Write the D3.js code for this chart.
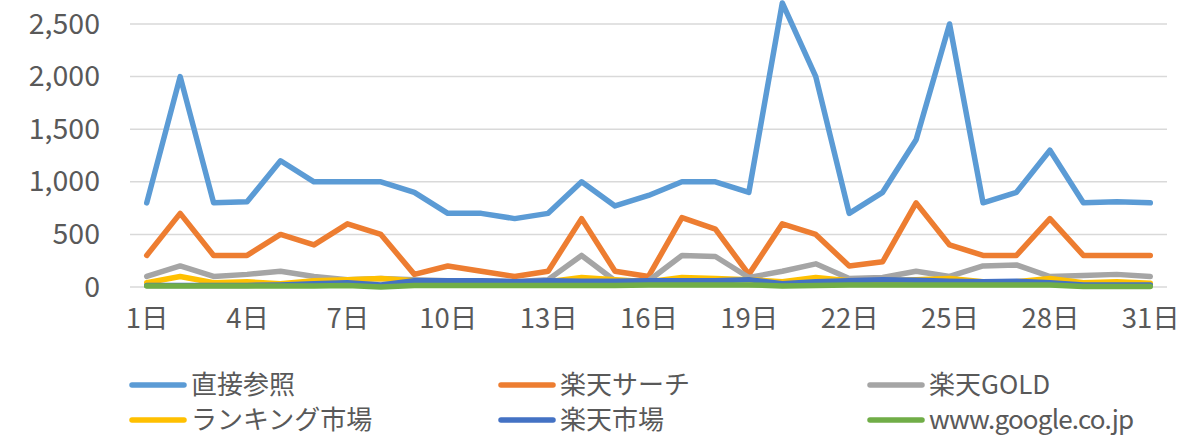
<!DOCTYPE html>
<html>
<head>
<meta charset="utf-8">
<script src="https://cdn.jsdelivr.net/npm/d3@7"></script>
<style>
  html, body { margin: 0; padding: 0; background: #fff; }
  svg { display: block; }
  text { font-family: "Noto Sans CJK JP", "Noto Sans", sans-serif; fill: #595959; }
</style>
</head>
<body>
<svg id="chart" width="1203" height="436"></svg>
<script>
const days = d3.range(1, 32).map(d => d + "日");
const seriesNames = ["直接参照", "楽天サーチ", "楽天GOLD", "ランキング市場", "楽天市場", "www.google.co.jp"];
const colors = ["#5B9BD5", "#ED7D31", "#A5A5A5", "#FFC000", "#4472C4", "#70AD47"];
const direct  = [800,2000,800,810,1200,1000,1000,1000,900,700,700,650,700,1000,770,870,1000,1000,900,2700,2000,700,900,1400,2500,800,900,1300,800,810,800];
const search  = [300,700,300,300,500,400,600,500,120,200,150,100,150,650,150,100,660,550,120,600,500,200,240,800,400,300,300,650,300,300,300];
const gold    = [100,200,100,120,150,100,70,80,70,60,60,50,70,300,60,60,300,290,90,150,220,80,90,150,100,200,210,100,110,120,100];
const ranking = [40,100,40,50,30,60,70,80,60,50,50,40,50,90,70,50,90,80,70,50,90,60,60,70,80,50,50,80,40,50,35];
const market  = [15,15,15,15,20,30,40,20,60,60,60,50,60,55,55,60,60,60,70,30,50,60,70,65,55,50,55,40,20,20,20];
const google  = [10,10,10,10,10,10,15,0,15,15,15,15,15,15,15,20,20,20,20,10,15,20,20,20,20,20,20,20,5,5,5];
const yTicks = [0, 500, 1000, 1500, 2000, 2500];
const xTickLabels = ["1日","4日","7日","10日","13日","16日","19日","22日","25日","28日","31日"];

const allSeries = [direct, search, gold, ranking, market, google];

const svg = d3.select("#chart");
const plot = { left: 130, right: 1167, top: 24, bottom: 287 };

const x = d3.scalePoint().domain(days).range([plot.left, plot.right]).padding(0.5);
const y = d3.scaleLinear().domain([0, 2500]).range([plot.bottom, plot.top]);

// gridlines
svg.append("g").selectAll("line").data(yTicks).join("line")
  .attr("x1", plot.left).attr("x2", plot.right)
  .attr("y1", d => y(d)).attr("y2", d => y(d))
  .attr("stroke", "#d9d9d9").attr("stroke-width", 1.5);

// y axis labels
const yAxis = d3.axisLeft(y).tickValues(yTicks).tickFormat(d3.format(",")).tickSize(0).tickPadding(0);
const yg = svg.append("g").attr("transform", `translate(${plot.left - 30},0)`).call(yAxis);
yg.select(".domain").remove();
yg.selectAll("text").attr("font-size", 28.5).attr("fill", "#595959")
  .style("font-family", '"Noto Sans CJK JP", sans-serif');

// x axis labels
const xAxis = d3.axisBottom(x).tickValues(xTickLabels).tickSize(0).tickPadding(0);
const xg = svg.append("g").attr("transform", `translate(0,${plot.bottom + 21})`).call(xAxis);
xg.select(".domain").remove();
xg.selectAll("text").attr("font-size", 27.5).attr("fill", "#595959")
  .style("font-family", '"Noto Sans CJK JP", sans-serif');

// lines
const line = d3.line().x((d, i) => x(days[i])).y(d => y(d));
svg.append("g").selectAll("path").data(allSeries).join("path")
  .attr("d", d => line(d))
  .attr("fill", "none")
  .attr("stroke", (d, i) => colors[i])
  .attr("stroke-width", 5.5)
  .attr("stroke-linejoin", "round")
  .attr("stroke-linecap", "round");

// legend
const legendCols = [130, 499, 868];
const legendRows = [385, 420];
const lg = svg.append("g");
seriesNames.forEach((name, i) => {
  const cx = legendCols[i % 3], cy = legendRows[Math.floor(i / 3)];
  lg.append("line").attr("x1", cx + 2).attr("x2", cx + 54).attr("y1", cy).attr("y2", cy)
    .attr("stroke", colors[i]).attr("stroke-width", 5.5).attr("stroke-linecap", "round");
  lg.append("text").attr("x", cx + 61).attr("y", cy).attr("dy", "0.36em")
    .attr("font-size", 26)
    .attr("letter-spacing", /^[\x00-\x7F]+$/.test(name) ? -0.8 : 0)
    .text(name);
});
</script>
</body>
</html>
